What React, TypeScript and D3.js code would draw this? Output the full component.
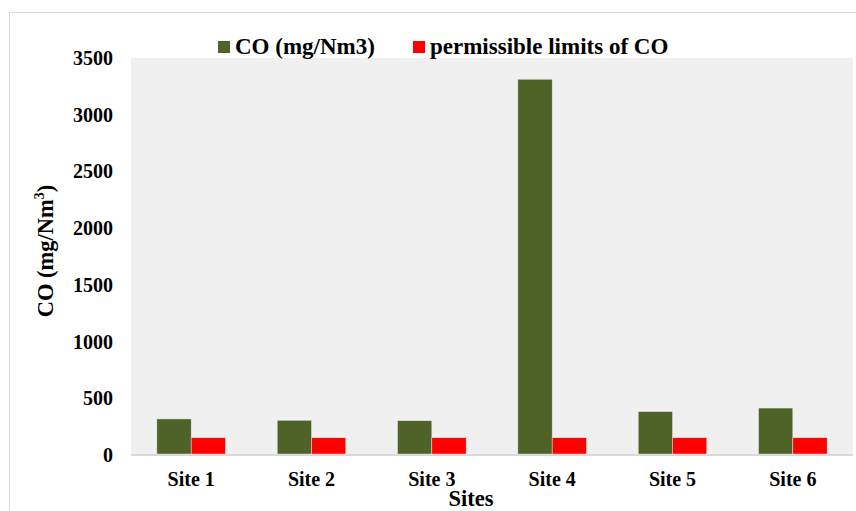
import React from "react";
import * as d3 from "d3";

const sites = ["Site 1", "Site 2", "Site 3", "Site 4", "Site 5", "Site 6"];
const coValues = [318, 306, 302, 3313, 382, 414];
const limitValues = [152, 152, 152, 152, 152, 152];
const seriesNames = ["CO (mg/Nm3)", "permissible limits of CO"];
const seriesColors = ["#4F6228", "#FF0000"];
const yTicks = [0, 500, 1000, 1500, 2000, 2500, 3000, 3500];

const W = 856;
const H = 511;
const plot = { left: 131, right: 853, top: 58, bottom: 455 };
const FONT = "'Liberation Serif', 'Times New Roman', serif";

export default function App() {
  const x = d3
    .scaleBand<string>()
    .domain(sites)
    .range([plot.left, plot.right])
    .paddingInner(0.43)
    .paddingOuter(0.215);
  const inner = d3
    .scaleBand<number>()
    .domain([0, 1])
    .range([0, x.bandwidth()]);
  const y = d3.scaleLinear().domain([0, 3500]).range([plot.bottom, plot.top]);

  const series = [coValues, limitValues];

  return (
    <svg
      width={W}
      height={H}
      style={{ position: "absolute", left: 0, top: 0, background: "#fff" }}
      fontFamily={FONT}
      fontWeight="bold"
    >
      {/* chart frame */}
      <rect x={9.5} y={12.5} width={W} height={H} fill="#fff" stroke="#d9d9d9" strokeWidth={1} />
      {/* plot area */}
      <rect
        x={plot.left}
        y={plot.top}
        width={plot.right - plot.left}
        height={plot.bottom - plot.top}
        fill="#f0f0f0"
      />
      {/* bars */}
      {sites.map((s, i) =>
        series.map((vals, k) => (
          <rect
            key={`${s}-${k}`}
            x={(x(s) ?? 0) + (inner(k) ?? 0)}
            y={y(vals[i])}
            width={inner.bandwidth()}
            height={y(0) - y(vals[i]) - 1}
            fill={seriesColors[k]}
            stroke="#e6e6e6"
            strokeWidth={0.5}
          />
        ))
      )}
      {/* x axis line */}
      <line
        x1={plot.left}
        x2={plot.right}
        y1={plot.bottom}
        y2={plot.bottom}
        stroke="#d9d9d9"
        strokeWidth={2}
      />
      {/* y tick labels */}
      {yTicks.map((t) => (
        <text
          key={t}
          x={113}
          y={y(t)}
          dy="0.35em"
          textAnchor="end"
          fontSize={20}
          fill="#000"
        >
          {t}
        </text>
      ))}
      {/* x tick labels */}
      {sites.map((s) => (
        <text
          key={s}
          x={(x(s) ?? 0) + x.bandwidth() / 2}
          y={486}
          textAnchor="middle"
          fontSize={20}
          fill="#000"
        >
          {s}
        </text>
      ))}
      {/* axis titles */}
      <text x={471} y={506} textAnchor="middle" fontSize={22.5} fill="#000">
        Sites
      </text>
      <text
        transform={`translate(53,251) rotate(-90)`}
        textAnchor="middle"
        fontSize={22.5}
        fill="#000"
      >
        CO (mg/Nm
        <tspan dy={-9} fontSize={14}>
          3
        </tspan>
        <tspan dy={9}>)</tspan>
      </text>
      {/* legend */}
      {[
        { x: 218, tx: 235 },
        { x: 413, tx: 430 },
      ].map((p, k) => (
        <g key={k}>
          <rect x={p.x} y={41} width={12} height={12} fill={seriesColors[k]} />
          <text x={p.tx} y={54} fontSize={23} fill="#000">
            {seriesNames[k]}
          </text>
        </g>
      ))}
    </svg>
  );
}
